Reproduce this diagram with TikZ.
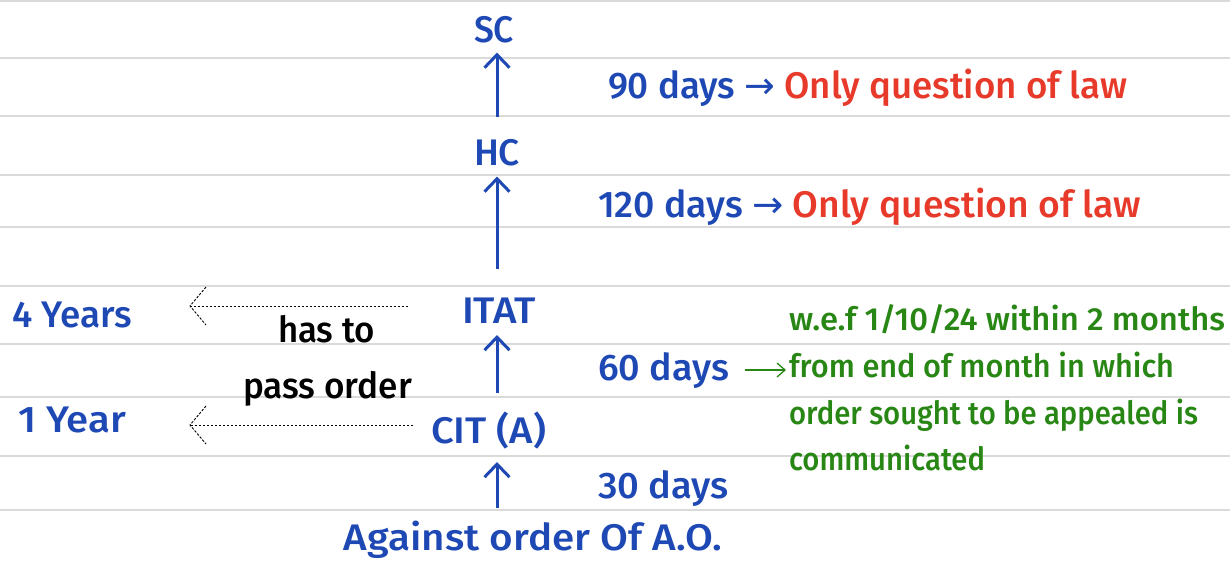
\documentclass[tikz,border=0pt]{standalone}
\usepackage{fontspec}
\usepackage{graphicx}
\setmainfont{Fira Sans}[UprightFont={* Medium}]
\newfontfamily\symfont{DejaVu Sans}
\usetikzlibrary{arrows.meta}
\definecolor{inkblue}{RGB}{30,72,180}
\definecolor{inkred}{RGB}{232,58,42}
\definecolor{inkgreen}{RGB}{40,135,20}
\definecolor{rulegray}{RGB}{218,218,218}
% stretch a line of text horizontally to a given width (in pt), keeping its height
\newcommand\fitto[2]{\resizebox{#1pt}{\height}{#2}}
\begin{document}
\begin{tikzpicture}[x=1pt,y=-1pt,
  every node/.style={inner sep=0pt, outer sep=0pt},
  court/.style={text=inkblue, font=\fontsize{37}{44}\selectfont, anchor=base},
  timing/.style={text=inkblue, font=\fontsize{37}{44}\selectfont, anchor=base west},
  note/.style={text=black, font=\fontsize{36}{43}\selectfont, anchor=base},
  greennote/.style={text=inkgreen, font=\fontsize{32}{38}\selectfont, anchor=base west},
  uparrow/.style={draw=inkblue, line width=3pt, -{Straight Barb[length=13pt,width=25pt,line width=3pt]}},
  limitarrow/.style={draw=black, line width=0.9pt, dash pattern=on 2.5pt off 1.5pt},
  ruleline/.style={draw=rulegray, line width=2pt}
]
\useasboundingbox[fill=white] (0,0) rectangle (1230,560);

% ruled paper
\foreach \y in {1,58,116,175,227,286,344,397,456,510}
  \draw[ruleline] (0,\y) -- (1230,\y);

% the appeal ladder
\coordinate (axis) at (497,0);
\node[court] (sc)   at (494,42)  {\fitto{40}{SC}};
\node[court] (hc)   at (497,165) {\fitto{46}{HC}};
\node[court] (itat) at (499,323) {\fitto{74}{ITAT}};
\node[court] (cit)  at (488.5,443) {\fitto{115}{CIT (A)}};
\node[court] (ao)   at (533,550) {\fitto{378}{Against order Of A.O.}};

\draw[uparrow] ([yshift=-74pt]sc.south -| axis) -- ([yshift=-10pt]sc.south -| axis);
\draw[uparrow] ([yshift=-103pt]hc.south -| axis) -- ([yshift=-11pt]hc.south -| axis);
\draw[uparrow] ([yshift=-70pt]itat.south -| axis) -- ([yshift=-12pt]itat.south -| axis);
\draw[uparrow] (axis |- 0,508) -- (axis |- 0,462);

% time limits for filing
\node[timing] (d90) at (608,98) {\fitto{519}{90 days {\symfont →} \textcolor{inkred}{Only question of law}}};
\node[timing] (d120) at (598,217) {\fitto{543}{120 days {\symfont →} \textcolor{inkred}{Only question of law}}};
\node[timing] (d60) at (598,380) {\fitto{131}{60 days}};
\node[timing] (d30) at (598,498) {\fitto{131}{30 days}};

\node[greennote] (g1) at (789,330) {\fitto{436}{w.e.f 1/10/24 within 2 months}};
\node[greennote] (g2) at (789,377) {\fitto{385}{from end of month in which}};
\node[greennote] (g3) at (789,424) {\fitto{409}{order sought to be appealed is}};
\node[greennote] (g4) at (789,470) {\fitto{196}{communicated}};
\coordinate (ga) at ([yshift=10pt]d60.base east);
\draw[draw=inkgreen, line width=1.3pt, -{Straight Barb[length=8pt,width=14pt,line width=1.3pt]}]
  ([xshift=16pt]ga) -- ([xshift=-3pt]ga -| g2.west);

% time limits for passing the order
\node[court, anchor=base west] (y4) at (12,327) {\fitto{120}{4 Years}};
\node[court, anchor=base west] (y1) at (18,432) {\fitto{108}{1 Year}};
\node[note] (n1) at (326.5,342) {\fitto{97}{has to}};
\node[note] (n2) at (327.5,398) {\fitto{169}{pass order}};

\coordinate (s4) at (408,306);
\coordinate (s1) at (413,425);
\coordinate (t4) at (190,306);
\coordinate (t1) at (190,425);
\draw[limitarrow] (s4) -- (t4);
\draw[limitarrow] (t4) ++(16,-19) -- (t4) -- ++(16,19);
\draw[limitarrow] (s1) -- (t1);
\draw[limitarrow] (t1) ++(16,-19) -- (t1) -- ++(16,19);
\end{tikzpicture}
\end{document}
